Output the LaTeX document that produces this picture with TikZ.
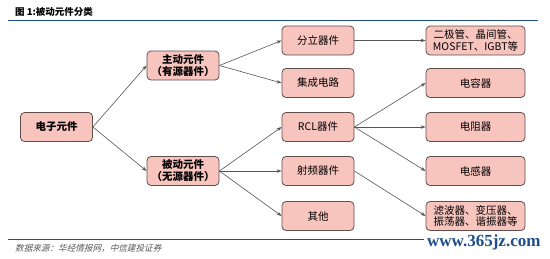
\documentclass[tikz,border=0pt]{standalone}
\usepackage{fontspec}
\setmainfont{Noto Sans CJK SC}
\newfontfamily\cjk{Noto Sans CJK SC}
\newfontfamily\cjkit[FakeSlant=0.25]{Noto Sans CJK SC}
\newfontfamily\wmfont{Liberation Serif}
\usetikzlibrary{arrows.meta}
\definecolor{boxfill}{HTML}{F8C4BE}
\definecolor{boxdraw}{HTML}{5E4E4C}
\definecolor{rulecol}{HTML}{1F4E8C}
\definecolor{arrcol}{HTML}{555555}
\tikzset{
  box/.style={draw=boxdraw, fill=boxfill, rounded corners=4pt, line width=0.8pt,
    minimum width=72pt, minimum height=29pt, inner sep=1pt, align=center,
    font=\fontsize{10.5}{11.5}\selectfont},
  boldbox/.style={box, font=\fontsize{10.5}{12}\selectfont\bfseries},
  widebox/.style={box, minimum width=99pt},
  arr/.style={draw=arrcol, line width=0.6pt, -{Stealth[length=5pt,width=3.5pt]}}
}
\begin{document}
\begin{tikzpicture}[x=1pt,y=-1pt]
\useasboundingbox (0,0) rectangle (550,258);
\fill[white] (0,0) rectangle (550,258);
% title and rules
\node[anchor=west, inner sep=0pt, font=\fontsize{9.5}{10}\selectfont\bfseries] (title) at (15,12) {图 1:被动元件分类};
\draw[rulecol, line width=1.3pt] (8,20.5) -- (538,20.5);
\draw[rulecol, line width=0.9pt] (8,239) -- (424,239);
\node[anchor=west, inner sep=0pt, text=black!65, font=\cjkit\fontsize{8.6}{9}\selectfont] (src) at (15,248) {数据来源：华经情报网，中信建投证券};
\node[anchor=west, inner sep=0pt, text=rulecol, font=\wmfont\bfseries\fontsize{17}{18}\selectfont] (wm) at (427,242) {www.365jz.com};
% nodes
\node[boldbox] (ez) at (56.5,127) {电子元件};
\node[boldbox] (zd) at (183,65.5) {主动元件\\（有源器件）};
\node[boldbox] (bd) at (183,171) {被动元件\\（无源器件）};
\node[box] (fl) at (318,40.5) {分立器件};
\node[box] (jc) at (318,83) {集成电路};
\node[box] (rcl) at (318,127) {RCL器件};
\node[box] (sp) at (318,171) {射频器件};
\node[box] (qt) at (318,216) {其他};
\node[widebox] (ej) at (475.5,40.5) {二极管、晶间管、\\MOSFET、IGBT等};
\node[widebox] (dr) at (475.5,83) {电容器};
\node[widebox] (dz) at (475.5,127) {电阻器};
\node[widebox] (dg) at (475.5,171) {电感器};
\node[widebox] (lb) at (475.5,216) {滤波器、变压器、\\振荡器、谐振器等};
% connectors
\draw[arr] (ez.east) -- (zd.west);
\draw[arr] (ez.east) -- (bd.west);
\draw[arr] (zd.east) -- (fl.west);
\draw[arr] (zd.east) -- (jc.west);
\draw[arr] (bd.east) -- (rcl.west);
\draw[arr] (bd.east) -- (sp.west);
\draw[arr] (bd.east) -- (qt.west);
\draw[arr] (fl.east) -- (ej.west);
\draw[arr] (rcl.east) -- (dr.west);
\draw[arr] (rcl.east) -- (dz.west);
\draw[arr] (rcl.east) -- (dg.west);
\draw[arr] (sp.east) -- (lb.west);
\end{tikzpicture}
\end{document}
